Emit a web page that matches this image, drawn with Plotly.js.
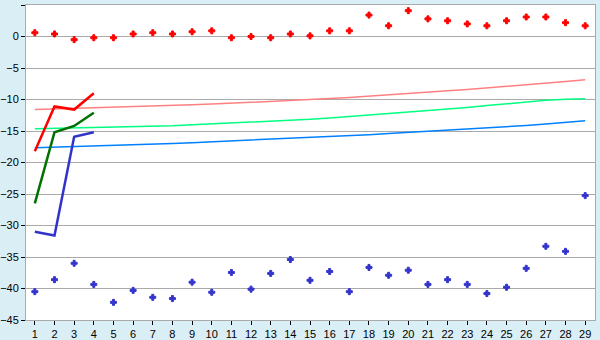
<!DOCTYPE html>
<html>
<head>
<meta charset="utf-8">
<script src="https://cdn.plot.ly/plotly-3.0.1.min.js"></script>
<style>html,body{margin:0;padding:0;background:#daeef5;}#chart{width:600px;height:340px;}</style>
</head>
<body>
<div id="chart"></div>
<script>
const categories = [1,2,3,4,5,6,7,8,9,10,11,12,13,14,15,16,17,18,19,20,21,22,23,24,25,26,27,28,29];
const xTickLabels = categories.map(String);

const redPoints = [0.6,0.4,-0.5,-0.2,-0.2,0.4,0.6,0.4,0.75,0.9,-0.2,0,-0.2,0.4,0.1,0.9,0.9,3.4,1.7,4.1,2.8,2.5,2.0,1.7,2.5,3.1,3.1,2.2,1.7];
const bluePoints = [-40.5,-38.6,-36.0,-39.35,-42.2,-40.3,-41.4,-41.6,-39.0,-40.6,-37.45,-40.1,-37.6,-35.4,-38.7,-37.3,-40.5,-36.65,-37.9,-37.1,-39.35,-38.6,-39.35,-40.8,-39.8,-36.8,-33.3,-34.1,-25.25];

const lineCats = [1,2,3,4];
const redLine = [-18.2,-11.1,-11.6,-9.0];
const greenLine = [-26.5,-15.2,-14.2,-12.1];
const blueLine = [-31.0,-31.6,-15.9,-15.2];

const pinkTrend = [-11.6,-11.52,-11.44,-11.35,-11.26,-11.17,-11.07,-10.97,-10.85,-10.73,-10.6,-10.47,-10.33,-10.18,-10.03,-9.86,-9.68,-9.49,-9.29,-9.08,-8.86,-8.63,-8.4,-8.17,-7.93,-7.68,-7.42,-7.15,-6.88];
const greenTrend = [-14.63,-14.57,-14.5,-14.43,-14.36,-14.29,-14.22,-14.15,-14.0,-13.87,-13.73,-13.59,-13.45,-13.3,-13.15,-12.93,-12.7,-12.48,-12.25,-12.03,-11.8,-11.57,-11.27,-10.97,-10.67,-10.37,-10.1,-9.95,-9.88];
const blueTrend = [-17.64,-17.56,-17.47,-17.38,-17.29,-17.19,-17.09,-16.98,-16.85,-16.72,-16.59,-16.46,-16.33,-16.19,-16.05,-15.9,-15.74,-15.58,-15.41,-15.24,-15.07,-14.9,-14.72,-14.53,-14.33,-14.12,-13.9,-13.64,-13.37];

const yTicks = [5,0,-5,-10,-15,-20,-25,-30,-35,-40,-45];

const traces = [
  {x: categories, y: pinkTrend, mode: 'lines', line: {color: '#ff8080', width: 1.5}},
  {x: categories, y: greenTrend, mode: 'lines', line: {color: '#00ff80', width: 1.5}},
  {x: categories, y: blueTrend, mode: 'lines', line: {color: '#0080ff', width: 1.5}},
  {x: lineCats, y: redLine, mode: 'lines', line: {color: '#ff0000', width: 2.5}},
  {x: lineCats, y: greenLine, mode: 'lines', line: {color: '#007000', width: 2.5}},
  {x: lineCats, y: blueLine, mode: 'lines', line: {color: '#3333cc', width: 2.5}},
  {x: categories, y: redPoints, mode: 'markers', marker: {symbol: 'cross', size: 5, color: '#ff0000', line: {color: '#ff0000', width: 1}}},
  {x: categories, y: bluePoints, mode: 'markers', marker: {symbol: 'cross', size: 5, color: '#3333cc', line: {color: '#3333cc', width: 1}}}
];

const layout = {
  width: 600, height: 340,
  paper_bgcolor: '#daeef5',
  plot_bgcolor: '#ffffff',
  showlegend: false,
  margin: {l: 26, r: 5, t: 5, b: 20, pad: 0},
  font: {family: 'Liberation Sans, Arial, sans-serif', size: 11, color: '#000'},
  xaxis: {
    range: [0.55, 29.5],
    tickmode: 'array', tickvals: categories, ticktext: xTickLabels,
    ticks: 'outside', ticklen: 4, tickcolor: '#000', tickwidth: 1,
    showgrid: false, zeroline: false,
    showline: true, linecolor: '#aaaaaa', linewidth: 1, mirror: true,
    tickfont: {size: 11}
  },
  yaxis: {
    range: [-45, 5],
    tickmode: 'array', tickvals: yTicks,
    ticks: 'outside', ticklen: 4, tickcolor: '#000', tickwidth: 1,
    showgrid: true, gridcolor: '#aaaaaa', gridwidth: 1,
    zeroline: false,
    showline: true, linecolor: '#aaaaaa', linewidth: 1, mirror: true,
    tickfont: {size: 11}
  }
};

Plotly.newPlot('chart', traces, layout, {staticPlot: true, displayModeBar: false});
</script>
</body>
</html>
